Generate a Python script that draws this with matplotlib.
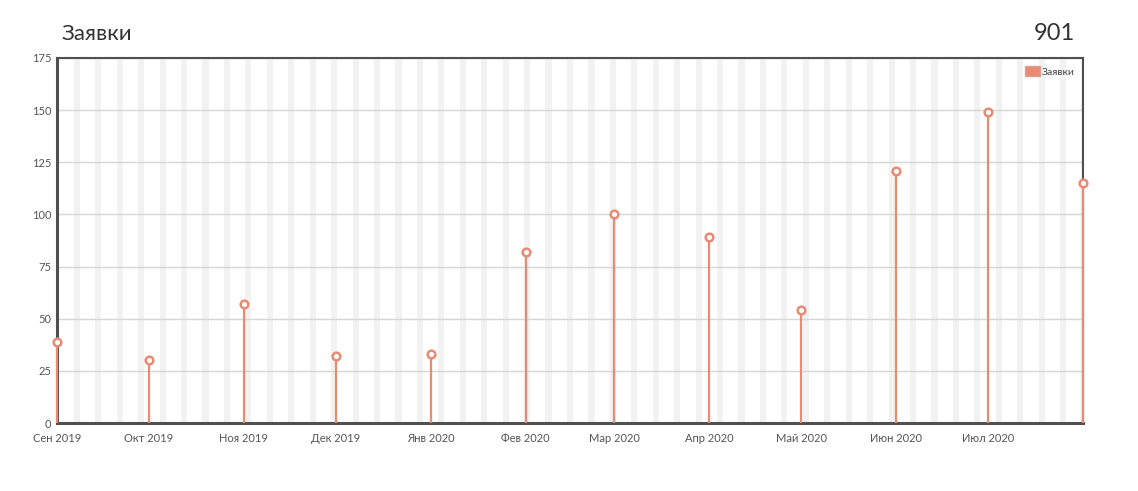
import matplotlib
matplotlib.use("Agg")
import matplotlib.pyplot as plt
import matplotlib.dates as mdates
import matplotlib.patches as mpatches
import numpy as np
import datetime as dt

months = ["2019-09-01", "2019-10-01", "2019-11-01", "2019-12-01", "2020-01-01", "2020-02-01",
          "2020-03-01", "2020-04-01", "2020-05-01", "2020-06-01", "2020-07-01", "2020-08-01"]
values = [39, 30, 57, 32, 33, 82, 100, 89, 54, 121, 149, 115]
tick_labels = ["Сен 2019", "Окт 2019", "Ноя 2019", "Дек 2019", "Янв 2020", "Фев 2020",
               "Мар 2020", "Апр 2020", "Май 2020", "Июн 2020", "Июл 2020"]
title = "Заявки"
total = "901"
series_name = "Заявки"

plt.rcParams['font.family'] = ['Lato', 'DejaVu Sans']

color = "#ea8a72"
axis_color = "#505050"
text_color = "#555555"

dates = [dt.datetime.strptime(m, "%Y-%m-%d") for m in months]
x = mdates.date2num(dates)

fig = plt.figure(figsize=(11.38, 4.91), dpi=100)
ax = fig.add_axes([57/1138, 1-423/491, (1083-57)/1138, (423-58)/491])

# weekend shading
start = dates[0]
end = dates[-1]
d = start
while d <= end:
    if d.weekday() == 5:
        s = mdates.date2num(d) - 0.5
        ax.axvspan(s, s + 2, color="#f2f2f2", lw=0, zorder=0)
    d += dt.timedelta(days=1)

ax.set_xlim(x[0], x[-1])
ax.set_ylim(0, 175)
ax.set_yticks(np.arange(0, 176, 25))
ax.yaxis.grid(True, color="#d6d6d6", lw=1, zorder=1)
ax.set_axisbelow(True)

ax.vlines(x, 0, values, color=color, lw=1.6, zorder=3, clip_on=False)
ax.plot(x, values, ls="none", marker="o", ms=5.5, mfc="white", mec=color, mew=1.8,
        zorder=4, clip_on=False)

ax.set_xticks(x[:len(tick_labels)])
ax.set_xticklabels(tick_labels)
ax.tick_params(axis="both", labelsize=8, colors=text_color, length=0, pad=7)
ax.tick_params(axis="y", pad=4)

for side in ["left", "bottom"]:
    ax.spines[side].set_color(axis_color)
    ax.spines[side].set_linewidth(2.2)
for side in ["top", "right"]:
    ax.spines[side].set_color(axis_color)
    ax.spines[side].set_linewidth(1.5)

handle = mpatches.Patch(facecolor=color, edgecolor="#d9a090", label=series_name)
leg = ax.legend(handles=[handle], loc="upper right", fontsize=7.5, frameon=False,
                handlelength=1.5, handleheight=1.1, handletextpad=0.15,
                borderaxespad=0.4)
for t in leg.get_texts():
    t.set_color("#444444")

fig.text(61/1138, 1-34/491, title, fontsize=16, color="#333333", va="center", ha="left")
fig.text(1075/1138, 1-34/491, total, fontsize=17, color="#333333", va="center", ha="right")

fig.savefig("out.png", dpi=100)
